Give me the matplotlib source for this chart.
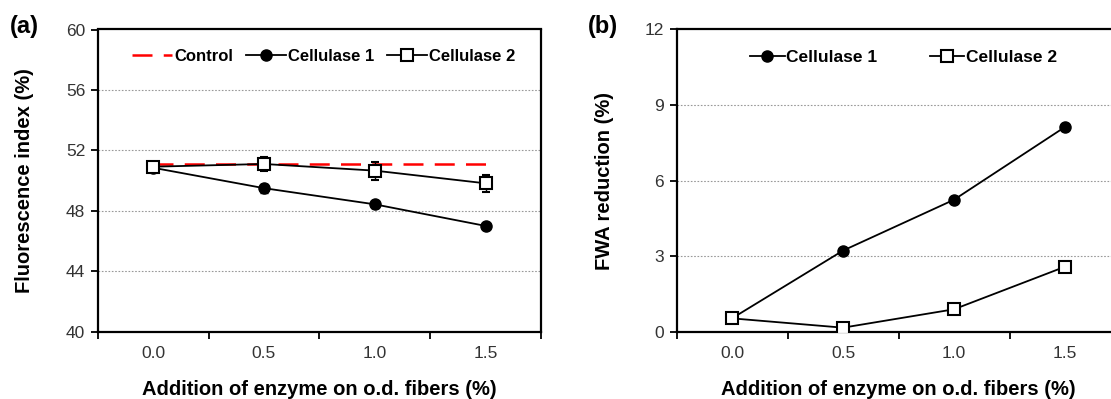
import matplotlib.pyplot as plt
from matplotlib.lines import Line2D
from matplotlib.ticker import FixedLocator, NullFormatter

plt.rcParams['font.family'] = ['Liberation Sans', 'DejaVu Sans']

# data
enzyme = [0.0, 0.5, 1.0, 1.5]
x_labels = ['0.0', '0.5', '1.0', '1.5']

control_fi = [51.08, 51.08, 51.08, 51.08]
cel1_fi = [50.85, 49.5, 48.43, 47.0]
cel1_fi_err = [0.2, 0.3, 0.25, 0.2]
cel2_fi = [50.92, 51.1, 50.66, 49.82]
cel2_fi_err = [0.2, 0.45, 0.6, 0.55]

cel1_fwa = [0.53, 3.22, 5.24, 8.13]
cel2_fwa = [0.53, 0.16, 0.89, 2.58]

W, H = 1111, 399
fig = plt.figure(figsize=(W / 100, H / 100), dpi=100)

ax1 = fig.add_axes([97.7 / W, (H - 331.7) / H, 443.3 / W, 302.2 / H])
ax2 = fig.add_axes([676.5 / W, (H - 331.7) / H, 444 / W, 302.2 / H])

tick_col = '#333333'
ms = 8


def style(ax, ylim, yticks):
    ax.set_xlim(-0.25, 1.75)
    ax.set_ylim(*ylim)
    ax.set_yticks(yticks)
    ax.xaxis.set_major_locator(FixedLocator([-0.25, 0.25, 0.75, 1.25, 1.75]))
    ax.xaxis.set_major_formatter(NullFormatter())
    ax.xaxis.set_minor_locator(FixedLocator(enzyme))
    ax.set_xticklabels(x_labels, minor=True)
    ax.tick_params(axis='x', which='minor', length=0, pad=10,
                   labelsize=12.5, labelcolor=tick_col)
    ax.tick_params(axis='x', which='major', length=5, width=1.3, direction='out')
    ax.tick_params(axis='y', length=5, width=1.3, direction='out',
                   labelsize=12.5, labelcolor=tick_col, pad=4)
    for s in ax.spines.values():
        s.set_linewidth(1.6)
    for yv in yticks[1:-1]:
        ax.axhline(yv, color='#999999', linestyle=(0, (1.5, 1.5)),
                   linewidth=0.8, zorder=0)
    ax.set_xlabel('Addition of enzyme on o.d. fibers (%)', fontsize=14.5,
                  fontweight='bold', labelpad=14)


# (a) fluorescence index
ax1.plot(enzyme, control_fi, color='red', linestyle=(0, (8, 4.5)),
         linewidth=1.8, zorder=2)
ax1.errorbar(enzyme, cel1_fi, yerr=cel1_fi_err, color='black', marker='o',
             markersize=ms, linewidth=1.3, capsize=3, elinewidth=1, zorder=3)
ax1.errorbar(enzyme, cel2_fi, yerr=cel2_fi_err, color='black', marker='s',
             markersize=ms, markerfacecolor='white', markeredgewidth=1.5,
             linewidth=1.3, capsize=3, elinewidth=1, zorder=4)
style(ax1, (40, 60), [40, 44, 48, 52, 56, 60])
ax1.set_ylabel('Fluorescence index (%)', fontsize=14.5, fontweight='bold',
               labelpad=23)

h_ctrl = Line2D([], [], color='red', linestyle=(0, (8, 4.5)), linewidth=1.8)
h_c1 = Line2D([], [], color='black', marker='o', markersize=ms, linewidth=1.3)
h_c2 = Line2D([], [], color='black', marker='s', markersize=ms,
              markerfacecolor='white', markeredgewidth=1.5, linewidth=1.3)
ax1.legend([h_ctrl, h_c1, h_c2], ['Control', 'Cellulase 1', 'Cellulase 2'],
           loc='upper center', bbox_to_anchor=(0.51, 0.985), ncol=3,
           frameon=False, prop={'weight': 'bold', 'size': 12},
           handlelength=2.4, handletextpad=0.1, columnspacing=0.8)

# (b) FWA reduction
ax2.plot(enzyme, cel1_fwa, color='black', marker='o', markersize=ms,
         linewidth=1.3, label='Cellulase 1', zorder=3)
ax2.plot(enzyme, cel2_fwa, color='black', marker='s', markersize=ms,
         markerfacecolor='white', markeredgewidth=1.5, linewidth=1.3,
         label='Cellulase 2', zorder=4)
style(ax2, (0, 12), [0, 3, 6, 9, 12])
ax2.set_ylabel('FWA reduction (%)', fontsize=14.5, fontweight='bold',
               labelpad=22)
ax2.legend(loc='upper left', bbox_to_anchor=(0.13, 0.985), ncol=2,
           frameon=False, prop={'weight': 'bold', 'size': 12.5},
           handlelength=2.0, handletextpad=0.1, columnspacing=3.0)

fig.text(10 / W, 1 - 27 / H, '(a)', fontsize=17, fontweight='bold',
         va='center', ha='left')
fig.text(588 / W, 1 - 27 / H, '(b)', fontsize=17, fontweight='bold',
         va='center', ha='left')

fig.savefig('out.png', dpi=100)
